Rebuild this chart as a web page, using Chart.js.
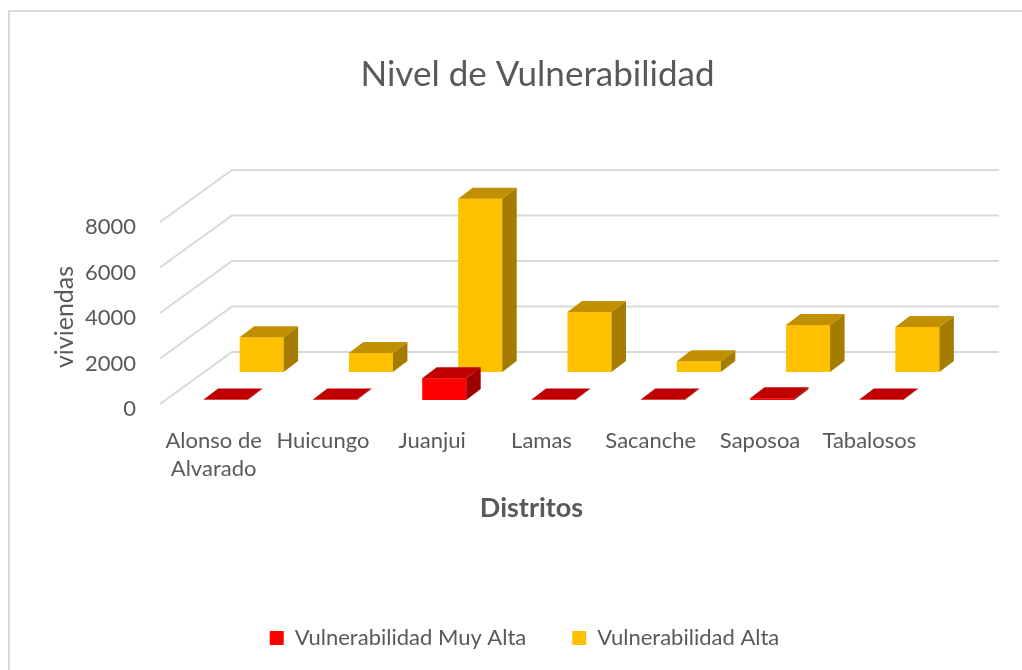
<!DOCTYPE html>
<html lang="es">
<head>
<meta charset="utf-8">
<title>Nivel de Vulnerabilidad</title>
<script src="https://cdn.jsdelivr.net/npm/chart.js@4"></script>
<style>
    html, body { margin: 0; padding: 0; background: #fff; overflow: hidden; }
    canvas { display: block; }
</style>
</head>
<body>
<canvas id="grafico" width="1022" height="670"></canvas>
<script>
const distritos = [['Alonso de', 'Alvarado'], 'Huicungo', 'Juanjui', 'Lamas', 'Sacanche', 'Saposoa', 'Tabalosos'];
const muyAlta = [20, 20, 960, 20, 20, 80, 20];
const alta = [1530, 840, 7620, 2640, 470, 2070, 1980];

const FUENTE = 'Lato, "Open Sans", sans-serif';
const GRIS = '#595959';
const LINEA = '#d9d9d9';

// profundidad de la pared del fondo
const paredX = 72;
const paredY = -52;
// caja 3D de cada barra
const cajaX = 14.5;
const cajaY = -11;

const caras = [
    { despX: 11, despY: -4, tapa: '#c00000', lado: '#a00000' },
    { despX: 47, despY: -32, tapa: '#c09000', lado: '#a67c00' }
];

// Marco, rejilla en perspectiva y barras con caras extra
const fondo3d = {
    id: 'fondo3d',
    afterLayout(chart) {
        // en el original el titulo y la leyenda no van centrados sobre el eje
        chart.titleBlock.left += 50;
        chart.titleBlock.right += 50;
        chart.legend.left += 37;
        chart.legend.right += 37;
        const x = chart.scales.x;
        const dibujarTituloX = x.drawTitle;
        x.drawTitle = function () {
            x.left -= 11;
            x.right -= 11;
            dibujarTituloX.call(x);
            x.left += 11;
            x.right += 11;
        };
        const y = chart.scales.y;
        const dibujarTituloY = y.drawTitle;
        y.drawTitle = function () {
            y.top += 4;
            y.bottom += 4;
            dibujarTituloY.call(y);
            y.top -= 4;
            y.bottom -= 4;
        };
    },
    beforeDraw(chart) {
        const c = chart.ctx;
        c.save();
        c.strokeStyle = LINEA;
        c.lineWidth = 2;
        c.beginPath();
        c.moveTo(9, 680);
        c.lineTo(9, 11);
        c.lineTo(1022, 11);
        c.stroke();
        c.restore();
    },
    beforeDatasetsDraw(chart) {
        const c = chart.ctx;
        const y = chart.scales.y;
        const izq = chart.chartArea.left;
        c.save();
        c.strokeStyle = LINEA;
        c.lineWidth = 2;
        y.ticks.forEach(t => {
            const py = y.getPixelForValue(t.value);
            c.beginPath();
            c.moveTo(izq, py);
            c.lineTo(izq + paredX, py + paredY);
            c.lineTo(999, py + paredY);
            c.stroke();
        });
        c.restore();
    },
    beforeDatasetDraw(chart, args) {
        const c = chart.ctx;
        const meta = chart.getDatasetMeta(args.index);
        const cara = caras[args.index];
        const color = chart.data.datasets[args.index].backgroundColor;
        c.save();
        meta.data.forEach(b => {
            const x0 = b.x - b.width / 2 + cara.despX;
            const x1 = x0 + b.width;
            const y0 = b.y + cara.despY;
            const y1 = b.base + cara.despY;
            c.fillStyle = color;
            c.fillRect(x0, y0, x1 - x0, y1 - y0);
            c.fillStyle = cara.lado;
            c.beginPath();
            c.moveTo(x1, y0);
            c.lineTo(x1 + cajaX, y0 + cajaY);
            c.lineTo(x1 + cajaX, y1 + cajaY);
            c.lineTo(x1, y1);
            c.closePath();
            c.fill();
            c.fillStyle = cara.tapa;
            c.beginPath();
            c.moveTo(x0, y0);
            c.lineTo(x0 + cajaX, y0 + cajaY);
            c.lineTo(x1 + cajaX, y0 + cajaY);
            c.lineTo(x1, y0);
            c.closePath();
            c.fill();
        });
        c.restore();
        return false;
    }
};

new Chart(document.getElementById('grafico').getContext('2d'), {
    type: 'bar',
    data: {
        labels: distritos,
        datasets: [
            { label: 'Vulnerabilidad Muy Alta', data: muyAlta, backgroundColor: '#ff0000', barThickness: 44 },
            { label: 'Vulnerabilidad Alta', data: alta, backgroundColor: '#ffc000', barThickness: 44 }
        ]
    },
    plugins: [fondo3d],
    options: {
        responsive: false,
        animation: false,
        layout: { padding: { left: 50, right: 97, top: 0, bottom: 11 } },
        datasets: { bar: { grouped: false } },
        scales: {
            x: {
                grid: { display: false },
                border: { display: false },
                ticks: {
                    color: GRIS,
                    maxRotation: 0,
                    autoSkip: false,
                    padding: 15,
                    labelOffset: -1,
                    font: { family: FUENTE, size: 22, lineHeight: 1.27 }
                },
                title: {
                    display: true,
                    text: 'Distritos',
                    color: GRIS,
                    padding: { top: 0, bottom: 57 },
                    font: { family: FUENTE, size: 27, weight: 'bold' }
                },
                afterFit(scale) { scale.height = 177; }
            },
            y: {
                min: 0,
                max: 8000,
                grid: { display: false, drawTicks: false },
                border: { display: false },
                ticks: {
                    stepSize: 2000,
                    format: { useGrouping: false },
                    color: GRIS,
                    padding: 24,
                    labelOffset: 5,
                    font: { family: FUENTE, size: 22 }
                },
                title: {
                    display: true,
                    text: 'viviendas',
                    color: GRIS,
                    padding: 0,
                    font: { family: FUENTE, size: 25 }
                },
                afterFit(scale) { scale.width = 110; }
            }
        },
        plugins: {
            title: {
                display: true,
                text: 'Nivel de Vulnerabilidad',
                color: GRIS,
                padding: { top: 54, bottom: 126 },
                font: { family: FUENTE, size: 35, weight: 'normal' }
            },
            legend: {
                position: 'bottom',
                labels: {
                    color: GRIS,
                    boxWidth: 14,
                    boxHeight: 14,
                    padding: 46,
                    font: { family: FUENTE, size: 22 }
                }
            },
            tooltip: { enabled: false }
        }
    }
});
</script>
</body>
</html>
